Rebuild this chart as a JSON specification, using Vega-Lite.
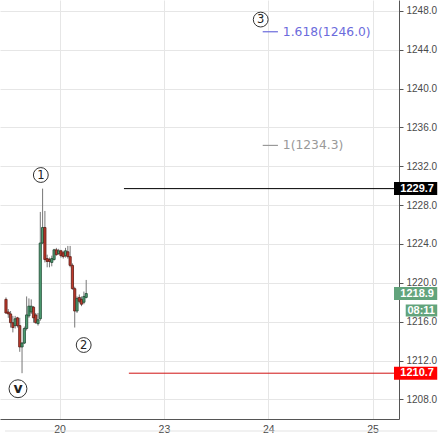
{
  "$schema": "https://vega.github.io/schema/vega-lite/v6.json",
  "width": 399,
  "height": 419,
  "autosize": {"type": "none"},
  "padding": {"left": 0, "top": 0, "right": 44, "bottom": 20},
  "background": "white",
  "config": {
    "view": {"stroke": null},
    "font": "Liberation Sans",
    "axis": {"labelFont": "Liberation Sans", "labelColor": "#4a4a4a"}
  },
  "datasets": {
    "candles": [
      {"t": -0.514, "o": 1218.3, "h": 1218.5, "l": 1216.8, "c": 1216.9},
      {"t": -0.492, "o": 1217.0, "h": 1217.3, "l": 1216.4, "c": 1216.8},
      {"t": -0.470, "o": 1216.8, "h": 1217.1, "l": 1215.4, "c": 1215.9},
      {"t": -0.448, "o": 1215.9, "h": 1216.6, "l": 1214.9, "c": 1215.4},
      {"t": -0.426, "o": 1215.6, "h": 1216.6, "l": 1215.3, "c": 1216.3},
      {"t": -0.404, "o": 1216.4, "h": 1216.5, "l": 1215.4, "c": 1215.6},
      {"t": -0.382, "o": 1215.6, "h": 1216.4, "l": 1212.9, "c": 1213.4},
      {"t": -0.360, "o": 1213.4, "h": 1213.9, "l": 1210.7, "c": 1213.8},
      {"t": -0.338, "o": 1213.8, "h": 1215.5, "l": 1213.7, "c": 1215.3},
      {"t": -0.316, "o": 1215.3, "h": 1218.6, "l": 1215.1, "c": 1216.7},
      {"t": -0.294, "o": 1216.6, "h": 1218.4, "l": 1216.4, "c": 1217.6},
      {"t": -0.272, "o": 1217.0, "h": 1218.3, "l": 1216.8, "c": 1217.6},
      {"t": -0.250, "o": 1217.5, "h": 1217.6, "l": 1215.9, "c": 1216.4},
      {"t": -0.229, "o": 1216.7, "h": 1216.9, "l": 1215.8, "c": 1215.9},
      {"t": -0.207, "o": 1215.8, "h": 1216.9, "l": 1215.6, "c": 1216.2},
      {"t": -0.185, "o": 1216.3, "h": 1227.3, "l": 1216.1, "c": 1224.1},
      {"t": -0.163, "o": 1224.1, "h": 1229.7, "l": 1224.0, "c": 1225.7},
      {"t": -0.141, "o": 1225.7, "h": 1227.4, "l": 1222.1, "c": 1222.4},
      {"t": -0.119, "o": 1222.5, "h": 1222.9, "l": 1221.6, "c": 1222.2},
      {"t": -0.097, "o": 1222.4, "h": 1222.6, "l": 1221.6, "c": 1222.2},
      {"t": -0.075, "o": 1222.1, "h": 1222.8, "l": 1221.7, "c": 1222.5},
      {"t": -0.053, "o": 1222.4, "h": 1223.5, "l": 1222.3, "c": 1223.4},
      {"t": -0.031, "o": 1223.4, "h": 1223.6, "l": 1222.8, "c": 1222.9},
      {"t": -0.009, "o": 1223.0, "h": 1223.5, "l": 1222.9, "c": 1223.3},
      {"t": 0.013, "o": 1223.3, "h": 1223.4, "l": 1222.6, "c": 1222.8},
      {"t": 0.035, "o": 1223.1, "h": 1223.3, "l": 1222.5, "c": 1222.7},
      {"t": 0.057, "o": 1222.8, "h": 1223.6, "l": 1222.6, "c": 1223.3},
      {"t": 0.079, "o": 1223.2, "h": 1223.8, "l": 1222.5, "c": 1222.7},
      {"t": 0.101, "o": 1222.7, "h": 1223.8, "l": 1221.6, "c": 1221.8},
      {"t": 0.123, "o": 1221.8, "h": 1222.0, "l": 1219.3, "c": 1219.4},
      {"t": 0.145, "o": 1219.4, "h": 1219.6, "l": 1215.4, "c": 1217.1},
      {"t": 0.167, "o": 1217.1, "h": 1218.6, "l": 1216.9, "c": 1218.4},
      {"t": 0.189, "o": 1218.5, "h": 1218.8, "l": 1217.9, "c": 1218.1},
      {"t": 0.210, "o": 1218.3, "h": 1218.6, "l": 1217.6, "c": 1217.8},
      {"t": 0.233, "o": 1218.0, "h": 1219.1, "l": 1217.8, "c": 1218.6},
      {"t": 0.255, "o": 1218.5, "h": 1220.3, "l": 1218.4, "c": 1218.9}
    ],
    "hlines": [
      {"kind": "hi", "price": 1229.7, "start": 0.617},
      {"kind": "lo", "price": 1210.7, "start": 0.664}
    ],
    "tags": [
      {"kind": "hi", "price": 1229.7, "label": "1229.7"},
      {"kind": "lo", "price": 1210.7, "label": "1210.7"},
      {"kind": "last", "price": 1218.9, "label": "1218.9"}
    ],
    "fib": [
      {"ratio": "1.618", "price": 1246.0, "label": "1.618(1246.0)"},
      {"ratio": "1", "price": 1234.3, "label": "1(1234.3)"}
    ],
    "waves": [
      {"label": "1", "t": -0.180, "v": 1231.1},
      {"label": "2", "t": 0.231, "v": 1213.6},
      {"label": "3", "t": 1.928, "v": 1247.1},
      {"label": "v", "t": -0.399, "v": 1209.1}
    ]
  },
  "layer": [
    {
      "data": {"name": "candles"},
      "mark": {"type": "rule", "color": "#777777", "strokeWidth": 1},
      "encoding": {
        "x": {
          "field": "t", "type": "quantitative", "title": null,
          "scale": {"domain": [-0.5234, 3.2056], "nice": false, "zero": false},
          "axis": {
            "orient": "bottom", "values": [0, 1, 2, 3],
            "labelExpr": "['20','23','24','25'][datum.value]",
            "grid": true, "gridColor": "#e6e6e6", "domainColor": "#555555",
            "ticks": false, "labelPadding": 5, "labelFontSize": 10.5,
            "labelFlush": false
          }
        },
        "y": {
          "field": "l", "type": "quantitative", "title": null,
          "scale": {"domain": [1206.5, 1248.6], "nice": false, "zero": false},
          "axis": {
            "orient": "right",
            "values": [1208, 1212, 1216, 1220, 1224, 1228, 1232, 1236, 1240, 1244, 1248],
            "format": ".1f", "grid": true, "gridColor": "#e6e6e6",
            "domainColor": "#555555", "tickColor": "#555555", "tickSize": 4,
            "labelPadding": 3, "labelFontSize": 10,
            "labelOverlap": false, "labelFlush": false
          }
        },
        "y2": {"field": "h"}
      }
    },
    {
      "data": {"name": "candles"},
      "mark": {"type": "bar", "size": 2.2, "strokeWidth": 0.8},
      "encoding": {
        "x": {"field": "t", "type": "quantitative", "title": null},
        "y": {"field": "o", "type": "quantitative", "title": null},
        "y2": {"field": "c"},
        "fill": {"condition": {"test": "datum.c >= datum.o", "value": "#4f9f74"}, "value": "#c0392b"},
        "stroke": {"condition": {"test": "datum.c >= datum.o", "value": "#1f4a33"}, "value": "#5a1c15"}
      }
    },
    {
      "data": {"name": "hlines"},
      "mark": {"type": "rule", "strokeWidth": 1},
      "encoding": {
        "x": {"field": "start", "type": "quantitative", "title": null},
        "x2": {"datum": 3.2056},
        "y": {"field": "price", "type": "quantitative", "title": null},
        "color": {"condition": {"test": "datum.kind == 'hi'", "value": "#000000"}, "value": "#d01010"}
      }
    },
    {
      "data": {"name": "tags"},
      "mark": {"type": "bar", "size": 13, "orient": "horizontal"},
      "encoding": {
        "x": {"datum": 3.2056, "type": "quantitative"},
        "x2": {"datum": 3.62},
        "y": {"field": "price", "type": "quantitative", "title": null},
        "color": {
          "condition": [
            {"test": "datum.kind == 'hi'", "value": "#000000"},
            {"test": "datum.kind == 'lo'", "value": "#ff0000"}
          ],
          "value": "#62a47c"
        }
      }
    },
    {
      "data": {"values": [{"label": "08:11"}]},
      "mark": {"type": "bar", "size": 12, "orient": "horizontal", "color": "#62a47c"},
      "encoding": {
        "x": {"datum": 3.318, "type": "quantitative"},
        "x2": {"datum": 3.62},
        "y": {"datum": 1217.15, "type": "quantitative"}
      }
    },
    {
      "data": {"name": "tags"},
      "mark": {"type": "text", "align": "left", "baseline": "middle", "fill": "white", "fontWeight": "bold", "fontSize": 11, "font": "Liberation Sans"},
      "encoding": {
        "x": {"datum": 3.266, "type": "quantitative"},
        "y": {"field": "price", "type": "quantitative", "title": null},
        "text": {"field": "label"}
      }
    },
    {
      "data": {"values": [{"label": "08:11"}]},
      "mark": {"type": "text", "align": "left", "baseline": "middle", "fill": "white", "fontWeight": "bold", "fontSize": 11, "font": "Liberation Sans"},
      "encoding": {
        "x": {"datum": 3.334, "type": "quantitative"},
        "y": {"datum": 1217.15, "type": "quantitative"},
        "text": {"field": "label"}
      }
    },
    {
      "data": {"name": "fib"},
      "mark": {"type": "rule", "strokeWidth": 1.2, "yOffset": 1.5},
      "encoding": {
        "x": {"datum": 1.947, "type": "quantitative"},
        "x2": {"datum": 2.093},
        "y": {"field": "price", "type": "quantitative", "title": null},
        "color": {"condition": {"test": "datum.ratio == '1.618'", "value": "#6b6bdc"}, "value": "#999999"}
      }
    },
    {
      "data": {"name": "fib"},
      "mark": {"type": "text", "align": "left", "baseline": "middle", "fontSize": 12.3, "font": "DejaVu Sans", "dy": 1.5},
      "encoding": {
        "x": {"datum": 2.14, "type": "quantitative"},
        "y": {"field": "price", "type": "quantitative", "title": null},
        "text": {"field": "label"},
        "color": {"condition": {"test": "datum.ratio == '1.618'", "value": "#6b6bdc"}, "value": "#999999"}
      }
    },
    {
      "data": {"name": "waves"},
      "mark": {"type": "point", "shape": "circle", "filled": false, "fill": "white", "fillOpacity": 1, "stroke": "#333333", "strokeWidth": 1, "opacity": 1},
      "encoding": {
        "x": {"field": "t", "type": "quantitative", "title": null},
        "y": {"field": "v", "type": "quantitative", "title": null},
        "size": {"condition": {"test": "datum.label == 'v'", "value": 320}, "value": 220}
      }
    },
    {
      "data": {"name": "waves"},
      "transform": [{"filter": "datum.label != 'v'"}],
      "mark": {"type": "text", "align": "center", "baseline": "middle", "fontSize": 11.5, "fill": "#222222", "font": "DejaVu Sans", "dy": 0.5},
      "encoding": {
        "x": {"field": "t", "type": "quantitative", "title": null},
        "y": {"field": "v", "type": "quantitative", "title": null},
        "text": {"field": "label"}
      }
    },
    {
      "data": {"name": "waves"},
      "transform": [{"filter": "datum.label == 'v'"}],
      "mark": {"type": "text", "align": "center", "baseline": "middle", "fontSize": 14, "fontWeight": "bold", "fill": "#222222", "font": "DejaVu Sans", "dy": 0},
      "encoding": {
        "x": {"field": "t", "type": "quantitative", "title": null},
        "y": {"field": "v", "type": "quantitative", "title": null},
        "text": {"field": "label"}
      }
    },
    {
      "data": {"values": [{"v": 1204.75}]},
      "mark": {"type": "rule", "color": "#e3e3e3", "strokeWidth": 1},
      "encoding": {
        "x": {"datum": -0.5234, "type": "quantitative"},
        "x2": {"datum": 3.62},
        "y": {"field": "v", "type": "quantitative", "title": null}
      }
    }
  ]
}
